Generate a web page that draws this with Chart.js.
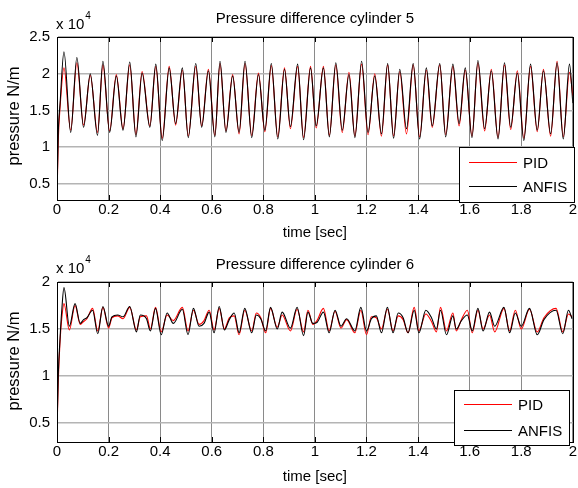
<!DOCTYPE html>
<html><head><meta charset="utf-8">
<script src="https://cdn.jsdelivr.net/npm/chart.js@4/dist/chart.umd.min.js"></script>
<style>
html,body{margin:0;padding:0;background:#fff;width:578px;height:488px;overflow:hidden}
.box{position:absolute;left:0;width:578px;height:244px}
#b1{top:0}#b2{top:244px}
</style></head><body>
<div class="box" id="b1"><canvas id="c1" width="578" height="244"></canvas></div>
<div class="box" id="b2"><canvas id="c2" width="578" height="244"></canvas></div>
<script>
// ---------- data ----------
const seriesNames = ['PID', 'ANFIS'];
const chartTitles = ['Pressure difference cylinder 5', 'Pressure difference cylinder 6'];
const xLabel = 'time [sec]';
const yLabel = 'pressure N/m';
const scaleBase = 'x 10';
const scaleExp = '4';

const xTicks = [0, 0.2, 0.4, 0.6, 0.8, 1, 1.2, 1.4, 1.6, 1.8, 2];
const xTickLabels = ['0', '0.2', '0.4', '0.6', '0.8', '1', '1.2', '1.4', '1.6', '1.8', '2'];
const topYTicks = [0.5, 1, 1.5, 2, 2.5];
const topYTickLabels = ['0.5', '1', '1.5', '2', '2.5'];
const botYTicks = [0.5, 1, 1.5, 2];
const botYTickLabels = ['0.5', '1', '1.5', '2'];

// cylinder 5 (values in x 10^4 N/m)
const topTime = [0, 0.005, 0.012, 0.027, 0.053, 0.077, 0.103, 0.129, 0.157, 0.178, 0.204, 0.230, 0.256, 0.282, 0.306, 0.330, 0.360, 0.383, 0.408, 0.435, 0.460, 0.486, 0.509, 0.538, 0.561, 0.587, 0.612, 0.632, 0.655, 0.681, 0.706, 0.729, 0.755, 0.781, 0.806, 0.831, 0.856, 0.882, 0.905, 0.933, 0.956, 0.983, 1.005, 1.033, 1.056, 1.081, 1.106, 1.132, 1.155, 1.181, 1.206, 1.232, 1.258, 1.282, 1.305, 1.329, 1.355, 1.381, 1.406, 1.432, 1.455, 1.484, 1.507, 1.535, 1.559, 1.583, 1.609, 1.632, 1.658, 1.684, 1.710, 1.735, 1.759, 1.785, 1.810, 1.836, 1.862, 1.886, 1.914, 1.939, 1.963, 1.987, 2.0];
const topANFIS = [0.37, 1.2, 1.6, 2.30, 1.20, 2.22, 1.27, 2.00, 1.16, 2.17, 1.20, 1.97, 1.23, 2.16, 1.14, 2.01, 1.27, 2.13, 1.09, 2.08, 1.32, 2.08, 1.13, 2.14, 1.27, 2.04, 1.14, 2.17, 1.20, 1.97, 1.20, 2.17, 1.13, 1.99, 1.23, 2.14, 1.11, 2.06, 1.28, 2.13, 1.10, 2.08, 1.29, 2.08, 1.14, 2.15, 1.23, 1.99, 1.13, 2.17, 1.20, 1.97, 1.18, 2.14, 1.12, 2.06, 1.25, 2.14, 1.11, 2.08, 1.29, 2.14, 1.14, 2.13, 1.32, 2.08, 1.13, 2.18, 1.25, 2.04, 1.11, 2.15, 1.27, 2.01, 1.09, 2.13, 1.23, 2.04, 1.18, 2.15, 1.11, 2.13, 1.60];
const topPID = [0.30, 1.1, 1.55, 2.08, 1.23, 2.15, 1.30, 1.98, 1.20, 2.12, 1.22, 1.99, 1.25, 2.12, 1.17, 2.03, 1.29, 2.10, 1.12, 2.10, 1.30, 2.05, 1.15, 2.10, 1.29, 2.06, 1.16, 2.14, 1.22, 1.99, 1.18, 2.14, 1.16, 2.01, 1.21, 2.11, 1.14, 2.08, 1.25, 2.10, 1.13, 2.10, 1.26, 2.10, 1.16, 2.12, 1.20, 2.02, 1.15, 2.13, 1.17, 2.00, 1.15, 2.12, 1.15, 2.03, 1.18, 2.12, 1.14, 2.05, 1.27, 2.12, 1.17, 2.10, 1.29, 2.05, 1.15, 2.15, 1.22, 2.06, 1.13, 2.12, 1.24, 2.04, 1.12, 2.10, 1.21, 2.06, 1.15, 2.17, 1.14, 2.02, 1.70];

// cylinder 6 (values in x 10^4 N/m)
const botTime = [0, 0.005, 0.012, 0.018, 0.027, 0.048, 0.070, 0.090, 0.103, 0.116, 0.138, 0.158, 0.178, 0.200, 0.213, 0.235, 0.256, 0.282, 0.308, 0.323, 0.347, 0.362, 0.382, 0.404, 0.427, 0.451, 0.486, 0.508, 0.529, 0.551, 0.570, 0.590, 0.609, 0.629, 0.649, 0.668, 0.687, 0.706, 0.728, 0.755, 0.773, 0.790, 0.809, 0.828, 0.854, 0.873, 0.905, 0.931, 0.956, 0.973, 0.992, 1.008, 1.033, 1.055, 1.078, 1.101, 1.123, 1.155, 1.178, 1.200, 1.219, 1.238, 1.258, 1.281, 1.303, 1.323, 1.342, 1.361, 1.385, 1.403, 1.430, 1.452, 1.471, 1.487, 1.510, 1.535, 1.548, 1.568, 1.591, 1.610, 1.632, 1.652, 1.677, 1.697, 1.733, 1.755, 1.777, 1.800, 1.832, 1.862, 1.888, 1.935, 1.961, 1.983, 1.997];
const botANFIS = [0.43, 1.02, 1.41, 1.68, 1.94, 1.53, 1.77, 1.56, 1.60, 1.62, 1.70, 1.45, 1.74, 1.53, 1.63, 1.65, 1.63, 1.74, 1.47, 1.65, 1.61, 1.48, 1.72, 1.44, 1.67, 1.56, 1.71, 1.44, 1.72, 1.53, 1.56, 1.68, 1.46, 1.74, 1.49, 1.60, 1.67, 1.46, 1.72, 1.46, 1.65, 1.61, 1.48, 1.73, 1.50, 1.68, 1.51, 1.73, 1.43, 1.68, 1.56, 1.57, 1.68, 1.46, 1.70, 1.53, 1.61, 1.48, 1.73, 1.48, 1.61, 1.64, 1.46, 1.73, 1.46, 1.67, 1.62, 1.46, 1.70, 1.46, 1.70, 1.62, 1.50, 1.70, 1.44, 1.64, 1.50, 1.59, 1.65, 1.48, 1.72, 1.48, 1.68, 1.53, 1.73, 1.46, 1.67, 1.53, 1.72, 1.44, 1.60, 1.70, 1.45, 1.70, 1.61];
const botPID = [0.40, 0.95, 1.38, 1.60, 1.77, 1.49, 1.75, 1.55, 1.58, 1.61, 1.72, 1.48, 1.73, 1.51, 1.62, 1.64, 1.61, 1.73, 1.49, 1.63, 1.64, 1.50, 1.73, 1.47, 1.65, 1.59, 1.73, 1.48, 1.70, 1.55, 1.59, 1.70, 1.49, 1.72, 1.50, 1.62, 1.64, 1.44, 1.70, 1.48, 1.67, 1.62, 1.46, 1.72, 1.52, 1.65, 1.48, 1.71, 1.47, 1.70, 1.55, 1.59, 1.72, 1.48, 1.69, 1.51, 1.60, 1.46, 1.70, 1.44, 1.63, 1.62, 1.50, 1.71, 1.48, 1.64, 1.60, 1.46, 1.73, 1.48, 1.66, 1.58, 1.47, 1.73, 1.48, 1.67, 1.48, 1.60, 1.70, 1.46, 1.70, 1.50, 1.65, 1.47, 1.72, 1.48, 1.70, 1.50, 1.71, 1.47, 1.62, 1.72, 1.47, 1.66, 1.63];

// ---------- rendering ----------
const FONT = '"Liberation Sans", Arial, Helvetica, sans-serif';
const pts = (t, v) => t.map((x, i) => ({ x: x, y: v[i] }));

const decor = {
  id: 'decor',
  afterDraw(chart, args, o) {
    const ctx = chart.ctx, a = chart.chartArea, xs = chart.scales.x;
    ctx.save();
    ctx.strokeStyle = '#000';
    ctx.lineWidth = 1;
    const L = Math.round(a.left), R = Math.round(a.right), T = Math.round(a.top), B = Math.round(a.bottom);
    ctx.beginPath();
    xTicks.forEach(v => {
      const px = Math.round(xs.getPixelForValue(v)) + 0.5;
      ctx.moveTo(px, T); ctx.lineTo(px, T + 5);
      ctx.moveTo(px, B); ctx.lineTo(px, B - 5);
    });
    ctx.stroke();
    ctx.strokeRect(L + 0.5, T + 0.5, R - L, B - T);

    ctx.fillStyle = '#000';
    ctx.font = '15px ' + FONT;
    ctx.textAlign = 'center';
    ctx.textBaseline = 'alphabetic';
    const cx = (a.left + a.right) / 2;
    ctx.fillText(o.title, cx, o.titleY);
    ctx.fillText(xLabel, cx, o.xLabelY);
    ctx.save();
    ctx.font = '16.5px ' + FONT;
    ctx.translate(o.yLabelX, o.yLabelY);
    ctx.rotate(-Math.PI / 2);
    ctx.fillText(yLabel, 0, 0);
    ctx.restore();

    ctx.textAlign = 'left';
    ctx.fillText(scaleBase, L - 1, o.baseY);
    const w = ctx.measureText(scaleBase).width;
    ctx.font = '10px ' + FONT;
    ctx.fillText(scaleExp, L - 1 + w + 1, o.baseY - 10);

    const lg = o.legend;
    ctx.fillStyle = '#fff';
    ctx.fillRect(lg.x, lg.y, lg.w, lg.h);
    ctx.strokeStyle = '#000';
    ctx.strokeRect(lg.x + 0.5, lg.y + 0.5, lg.w, lg.h);
    ctx.font = '15px ' + FONT;
    const cols = ['#ff0000', '#000000'];
    seriesNames.forEach((n, i) => {
      const y = lg.lineY[i];
      ctx.strokeStyle = cols[i];
      ctx.beginPath();
      ctx.moveTo(lg.x1, y + 0.5); ctx.lineTo(lg.x2, y + 0.5);
      ctx.stroke();
      ctx.fillStyle = '#000';
      ctx.fillText(n, lg.tx, y + 6);
    });
    ctx.restore();
  }
};

function makeChart(id, time, anfis, pid, yTicks, yTickLabels, yMin, yMax, xHeight, deco) {
  return new Chart(document.getElementById(id), {
    type: 'line',
    data: {
      datasets: [
        { label: seriesNames[1], data: pts(time, anfis), borderColor: '#000000', borderWidth: 1.1, pointRadius: 0, cubicInterpolationMode: 'monotone', fill: false },
        { label: seriesNames[0], data: pts(time, pid), borderColor: '#ff0000', borderWidth: 1.1, pointRadius: 0, cubicInterpolationMode: 'monotone', fill: false }
      ]
    },
    options: {
      responsive: false,
      animation: false,
      devicePixelRatio: 1,
      layout: { padding: { top: deco.top, right: 4, left: 0, bottom: 0 } },
      plugins: { legend: { display: false }, tooltip: { enabled: false }, title: { display: false }, decor: deco },
      scales: {
        x: {
          type: 'linear', min: 0, max: 2,
          afterBuildTicks: s => { s.ticks = xTicks.map(v => ({ value: v })); },
          afterFit: s => { s.height = xHeight; },
          ticks: { autoSkip: false, maxRotation: 0, padding: 1, color: '#000', font: { family: FONT, size: 15 },
                   callback: v => xTickLabels[xTicks.indexOf(v)] },
          grid: { color: '#8a8a8a', lineWidth: 1, drawTicks: false },
          border: { display: true, color: '#000' }
        },
        y: {
          min: yMin, max: yMax,
          afterBuildTicks: s => { s.ticks = yTicks.map(v => ({ value: v })); },
          afterFit: s => { s.width = 57; },
          ticks: { padding: 7, color: '#000', font: { family: FONT, size: 15 },
                   callback: v => yTickLabels[yTicks.indexOf(v)] },
          grid: { color: '#b4b4b4', lineWidth: 1.5, drawTicks: false },
          border: { display: true, color: '#000' }
        }
      }
    },
    plugins: [decor]
  });
}

makeChart('c1', topTime, topANFIS, topPID, topYTicks, topYTickLabels, 0.28, 2.5, 44, {
  top: 37, title: chartTitles[0], titleY: 22.5, xLabelY: 237, yLabelX: 19, yLabelY: 116, baseY: 29,
  legend: { x: 459, y: 147, w: 115, h: 55, x1: 469, x2: 517, tx: 523, lineY: [162, 186] }
});
makeChart('c2', botTime, botANFIS, botPID, botYTicks, botYTickLabels, 0.3, 2.0, 46, {
  top: 38, title: chartTitles[1], titleY: 25, xLabelY: 237, yLabelX: 19, yLabelY: 117, baseY: 29,
  legend: { x: 454, y: 146, w: 115, h: 55, x1: 464, x2: 512, tx: 518, lineY: [160, 186] }
});
</script>
</body></html>
